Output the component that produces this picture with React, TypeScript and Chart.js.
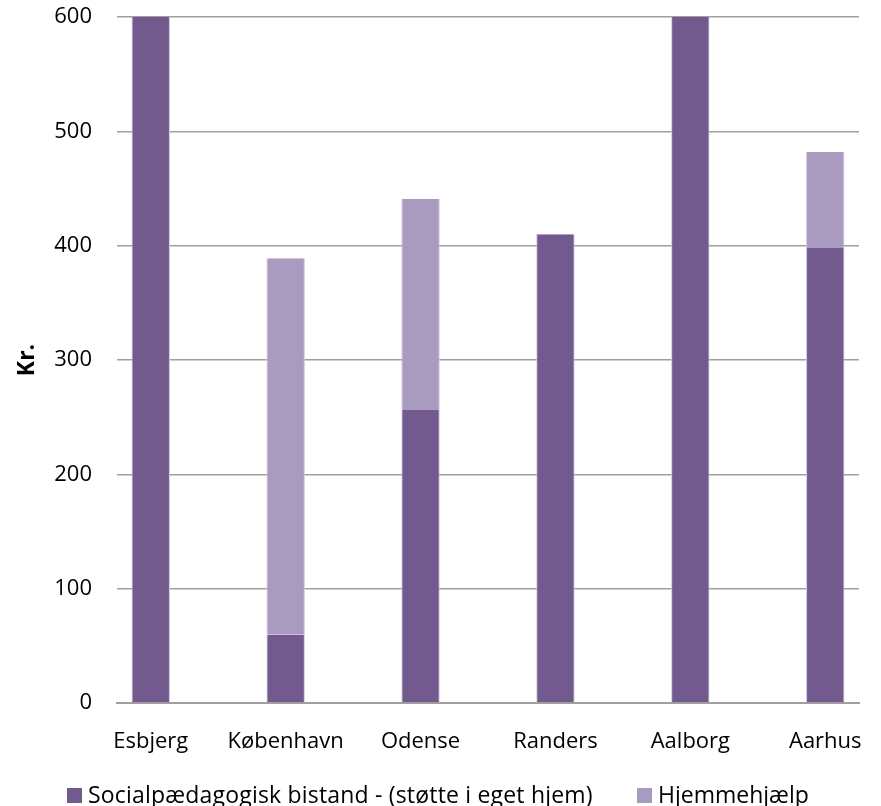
import React, { useEffect, useRef } from "react";
import { Chart, registerables } from "chart.js";

Chart.register(...registerables);

const categories = ["Esbjerg", "København", "Odense", "Randers", "Aalborg", "Aarhus"];
const socialpaedagogisk = [680, 60, 257, 410, 680, 398];
const hjemmehjaelp = [0, 329, 184, 0, 0, 84];
const yTicks = [0, 100, 200, 300, 400, 500, 600];

const seriesNames = ["Socialpædagogisk bistand - (støtte i eget hjem)", "Hjemmehjælp"];
const seriesColors = ["#725A8F", "#A99BC0"];

const FONT = "'Open Sans', 'Noto Sans', sans-serif";

export default function App() {
  const ref = useRef<HTMLCanvasElement | null>(null);

  useEffect(() => {
    if (!ref.current) return;
    const toPoints = (arr: number[]) => arr.map((y, i) => ({ x: i, y }));
    const common = {
      barPercentage: 0.285,
      categoryPercentage: 1,
      borderColor: "#CFC6DD",
      borderWidth: { left: 1, right: 1, top: 0, bottom: 0 },
      borderSkipped: false,
    };
    const chart = new Chart(ref.current, {
      type: "bar",
      data: {
        datasets: [
          { label: seriesNames[0], data: toPoints(socialpaedagogisk), backgroundColor: seriesColors[0], ...common },
          { label: seriesNames[1], data: toPoints(hjemmehjaelp), backgroundColor: seriesColors[1], ...common },
        ],
      },
      options: {
        animation: false,
        responsive: false,
        maintainAspectRatio: false,
        layout: { padding: { top: 17, right: 22, left: 10, bottom: 53 } },
        plugins: {
          legend: { display: false },
          tooltip: { enabled: false },
        },
        scales: {
          x: {
            type: "linear",
            stacked: true,
            offset: false,
            min: -0.25,
            max: 5.25,
            afterBuildTicks: (axis: any) => {
              axis.ticks = categories.map((_, i) => ({ value: i }));
            },
            afterFit: (axis: any) => {
              axis.height = 50;
              axis.paddingLeft = 0;
              axis.paddingRight = 0;
            },
            grid: { display: false, offset: false },
            border: { display: true, color: "#A0A0A0", width: 2 },
            ticks: {
              color: "#000",
              font: { family: FONT, size: 22 },
              padding: 18,
              maxRotation: 0,
              autoSkip: false,
              callback: (v: any) => categories[Math.round(Number(v))] ?? "",
            },
          },
          y: {
            stacked: true,
            min: 0,
            max: 600,
            afterBuildTicks: (axis: any) => {
              axis.ticks = yTicks.map((v) => ({ value: v }));
            },
            afterFit: (axis: any) => {
              axis.width = 107;
              axis.paddingTop = 0;
              axis.paddingBottom = 0;
            },
            grid: { color: "#A0A0A0", lineWidth: 1.5, drawTicks: false },
            border: { display: false },
            ticks: { color: "#000", font: { family: FONT, size: 22 }, padding: 25 },
            title: {
              display: true,
              text: "Kr.",
              color: "#000",
              font: { family: FONT, size: 23, weight: "bold" },
              padding: { top: 4, bottom: 12 },
            },
          },
        },
      },
    });
    return () => chart.destroy();
  }, []);

  const legendText: React.CSSProperties = {
    position: "absolute",
    top: 783,
    height: 23,
    lineHeight: "23px",
    fontFamily: FONT,
    fontSize: 23,
    color: "#000",
    whiteSpace: "nowrap",
  };
  const legendBox: React.CSSProperties = { position: "absolute", top: 788, width: 15, height: 15 };

  return (
    <div style={{ position: "absolute", left: 0, top: 0, width: 881, height: 806, background: "#fff", overflow: "hidden" }}>
      <canvas ref={ref} width={881} height={806} style={{ position: "absolute", left: 0, top: 0 }} />
      <div style={{ ...legendBox, left: 67, background: seriesColors[0] }} />
      <div style={{ ...legendText, left: 88, letterSpacing: "0.19px" }}>{seriesNames[0]}</div>
      <div style={{ ...legendBox, left: 637, background: seriesColors[1] }} />
      <div style={{ ...legendText, left: 658 }}>{seriesNames[1]}</div>
    </div>
  );
}
